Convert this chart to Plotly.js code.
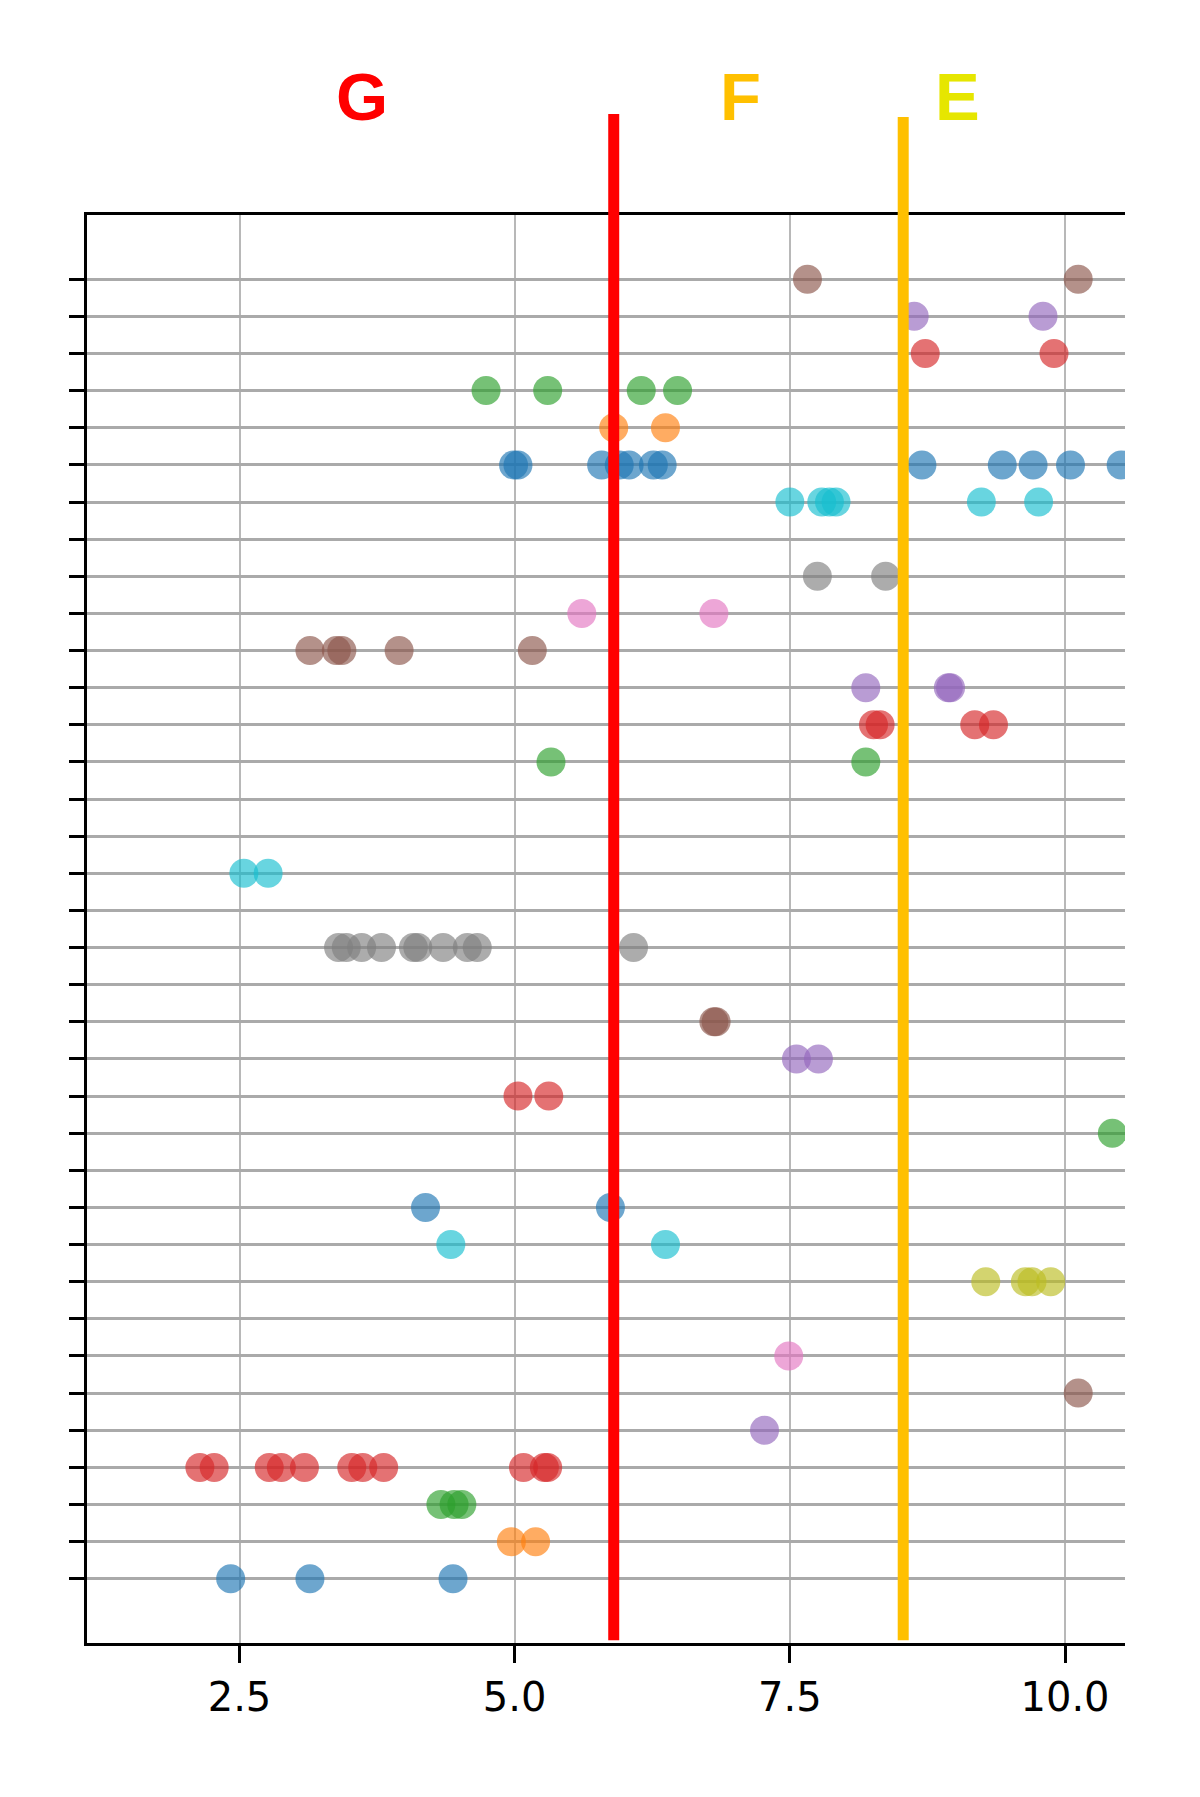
<!DOCTYPE html>
<html>
<head>
<meta charset="utf-8">
<script src="https://cdn.plot.ly/plotly-3.0.1.min.js"></script>
<style>body{margin:0;background:#fff;}</style>
</head>
<body>
<div id="myGraph" style="width:1200px;height:1797px;"></div>
<script>
let myGraph = document.getElementById('myGraph');

// x values of the dots, one list per row (row 0 = bottom)
let rowValues = [
  [2.42, 3.14, 4.44],
  [4.97, 5.19],
  [4.33, 4.45, 4.52],
  [2.14, 2.27, 2.77, 2.88, 3.09, 3.52, 3.62, 3.81, 5.08, 5.27, 5.30],
  [7.27],
  [10.12],
  [7.49],
  [],
  [9.28, 9.64, 9.70, 9.87],
  [4.42, 6.37],
  [4.19, 5.87],
  [],
  [10.43],
  [5.03, 5.31],
  [7.56, 7.76],
  [6.81, 6.83],
  [],
  [3.40, 3.47, 3.61, 3.79, 4.08, 4.12, 4.35, 4.57, 4.66, 6.08],
  [],
  [2.54, 2.76],
  [],
  [],
  [5.33, 8.19],
  [8.26, 8.32, 9.18, 9.35],
  [8.19, 8.94, 8.96],
  [3.14, 3.38, 3.43, 3.95, 5.16],
  [5.61, 6.81],
  [7.75, 8.37],
  [],
  [7.50, 7.79, 7.86, 7.92, 9.24, 9.76],
  [4.99, 5.03, 5.79, 5.95, 6.04, 6.26, 6.34, 8.70, 9.43, 9.71, 10.05, 10.51],
  [5.90, 6.37],
  [4.74, 5.30, 6.15, 6.48],
  [8.73, 9.90],
  [8.63, 9.80],
  [7.66, 10.12]
];

// matplotlib tab10 cycle
let palette = ['#1f77b4', '#ff7f0e', '#2ca02c', '#d62728', '#9467bd',
               '#8c564b', '#e377c2', '#7f7f7f', '#bcbd22', '#17becf'];

// grade boundaries and labels
let cutValues = [5.9, 8.53];
let cutColors = ['#ff0000', '#ffc000'];
let gradeLabels = ['G', 'F', 'E'];
let gradeX = [3.61, 7.05, 9.02];
let gradeColors = ['#ff0000', '#ffc000', '#e6e600'];

let xTicks = [2.5, 5.0, 7.5, 10.0];
let xTickText = ['2.5', '5.0', '7.5', '10.0'];

let rowIndex = rowValues.map((xs, i) => i);

let data = rowValues.map((xs, i) => ({
  type: 'scatter',
  mode: 'markers',
  x: xs,
  y: xs.map(() => i),
  marker: { size: 29, color: palette[i % 10], opacity: 0.65, line: { width: 0 } },
  hoverinfo: 'x',
  showlegend: false,
}));

let shapes = cutValues.map((v, i) => ({
  type: 'line',
  xref: 'x',
  yref: 'paper',
  x0: v, x1: v,
  y0: 0.002,
  y1: i === 0 ? 1.0707 : 1.0686,
  line: { color: cutColors[i], width: 11 },
}));

let annotations = gradeLabels.map((g, i) => ({
  x: gradeX[i],
  y: 1.0833,
  xref: 'x',
  yref: 'paper',
  text: '<b>' + g + '</b>',
  showarrow: false,
  xanchor: 'center',
  yanchor: 'middle',
  font: { family: 'Liberation Sans, Arial, sans-serif', size: 67, color: gradeColors[i] },
}));

let layout = {
  width: 1200,
  height: 1797,
  margin: { l: 87, r: 75, t: 215, b: 154 },
  paper_bgcolor: '#ffffff',
  plot_bgcolor: '#ffffff',
  showlegend: false,
  xaxis: {
    range: [1.1145, 10.545],
    tickvals: xTicks,
    ticktext: xTickText,
    ticks: 'outside',
    ticklen: 17,
    tickwidth: 3,
    tickcolor: '#000000',
    tickfont: { family: 'DejaVu Sans, sans-serif', size: 40, color: '#000000' },
    showgrid: true,
    gridcolor: '#b8b8b8',
    gridwidth: 2,
    zeroline: false,
    showline: true,
    linecolor: '#000000',
    linewidth: 3,
    mirror: true,
  },
  yaxis: {
    range: [-1.73, 36.73],
    tickmode: 'array',
    tickvals: rowIndex,
    showticklabels: false,
    ticks: 'outside',
    ticklen: 15,
    tickwidth: 3,
    tickcolor: '#000000',
    showgrid: true,
    gridcolor: '#aaaaaa',
    gridwidth: 3,
    zeroline: false,
    showline: true,
    linecolor: '#000000',
    linewidth: 3,
  },
  shapes: shapes,
  annotations: annotations,
};

Plotly.newPlot(myGraph, data, layout, { staticPlot: true });
</script>
</body>
</html>
